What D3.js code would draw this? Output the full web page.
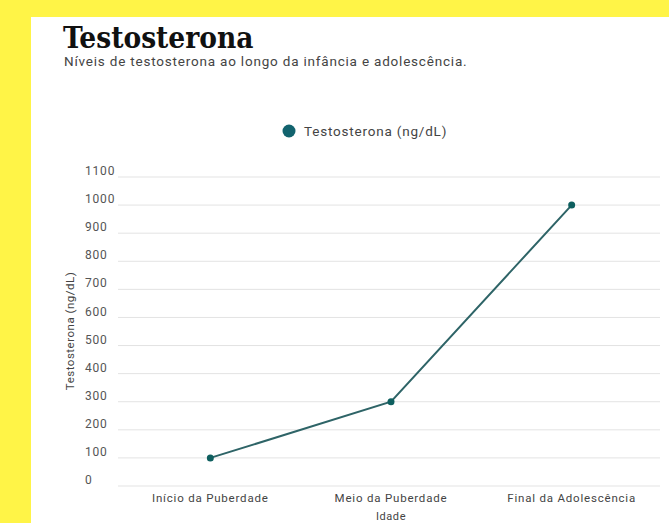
<!DOCTYPE html>
<html><head><meta charset="utf-8">
<script src="https://cdn.jsdelivr.net/npm/d3@7/dist/d3.min.js"></script>
<style>html,body{margin:0;padding:0;background:#FFF447;}svg{display:block;}</style>
</head><body>
<svg id="c" width="669" height="523"></svg>
<script>
const categories = ["Início da Puberdade", "Meio da Puberdade", "Final da Adolescência"];
const values = [100, 300, 1000];
const yTicks = [0, 100, 200, 300, 400, 500, 600, 700, 800, 900, 1000, 1100];
const seriesName = "Testosterona (ng/dL)";

const svg = d3.select("#c");
svg.append("rect").attr("x", 31).attr("y", 17).attr("width", 669 - 31).attr("height", 523 - 17).attr("fill", "#fff");

svg.append("text").attr("x", 63).attr("y", 48)
  .attr("font-family", "'DejaVu Serif Condensed','DejaVu Serif',serif").attr("font-weight", "bold")
  .attr("font-size", 29.5).attr("fill", "#111").text("Testosterona");
svg.append("text").attr("x", 64).attr("y", 66)
  .attr("font-family", "Roboto, sans-serif").attr("font-size", 13.5).attr("letter-spacing", 0.8).attr("fill", "#444")
  .text("Níveis de testosterona ao longo da infância e adolescência.");

const x = d3.scaleBand().domain(categories).range([120, 662]);
const y = d3.scaleLinear().domain([0, 1100]).range([486, 177]);

const grid = svg.append("g");
grid.selectAll("line").data(yTicks).join("line")
  .attr("x1", 118).attr("x2", 660)
  .attr("y1", d => y(d)).attr("y2", d => y(d))
  .attr("stroke", "#e3e3e3").attr("stroke-width", 1);

const yAxis = svg.append("g").attr("transform", "translate(85,0)")
  .call(d3.axisLeft(y).tickValues(yTicks).tickSize(0).tickFormat(d3.format("d")));
yAxis.select(".domain").remove();
yAxis.selectAll("text").attr("text-anchor", "start").attr("x", 0).attr("dy", "-0.2em")
  .attr("font-family", "Roboto, sans-serif").attr("font-size", 12).attr("letter-spacing", 0.8).attr("fill", "#555");

const xAxis = svg.append("g").attr("transform", "translate(0,486)")
  .call(d3.axisBottom(x).tickSize(0));
xAxis.select(".domain").remove();
xAxis.selectAll("text").attr("dy", "1.1em").attr("y", 3)
  .attr("font-family", "Roboto, sans-serif").attr("font-size", 11.5).attr("letter-spacing", 0.8).attr("fill", "#444");

svg.append("text").attr("x", 391).attr("y", 520).attr("text-anchor", "middle")
  .attr("font-family", "Roboto, sans-serif").attr("font-size", 11).attr("letter-spacing", 0.6).attr("fill", "#444").text("Idade");
svg.append("text").attr("transform", "translate(74,331) rotate(-90)").attr("text-anchor", "middle")
  .attr("font-family", "Roboto, sans-serif").attr("font-size", 11.5).attr("letter-spacing", 0.5).attr("fill", "#444").text(seriesName);

const cx = d => x(d) + x.bandwidth() / 2;
const line = d3.line().x((d, i) => cx(categories[i])).y(d => y(d));
svg.append("path").datum(values).attr("d", line).attr("fill", "none")
  .attr("stroke", "#2e6467").attr("stroke-width", 2);
svg.selectAll("circle.pt").data(values).join("circle").attr("class", "pt")
  .attr("cx", (d, i) => cx(categories[i])).attr("cy", d => y(d)).attr("r", 3.5)
  .attr("fill", "#0e5f5f");

const lg = svg.append("g");
lg.append("circle").attr("cx", 289).attr("cy", 131).attr("r", 6.5).attr("fill", "#12636e");
lg.append("text").attr("x", 304).attr("y", 136)
  .attr("font-family", "Roboto, sans-serif").attr("font-size", 13.5).attr("letter-spacing", 0.8).attr("fill", "#444").text(seriesName);
</script>
</body></html>
